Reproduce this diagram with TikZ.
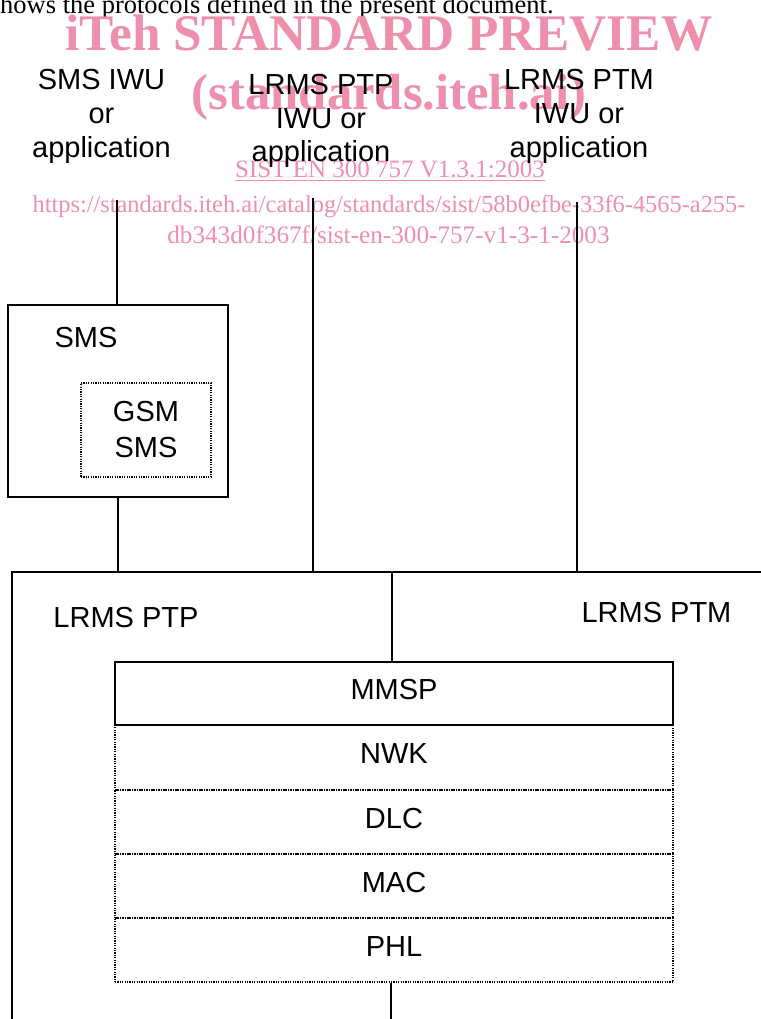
\documentclass[tikz,border=0pt]{standalone}
\usepackage{fontspec}
\setmainfont{Liberation Serif}
\newfontfamily\arialf{Liberation Sans}
\definecolor{wmpink}{RGB}{238,143,172}
\begin{document}
\begin{tikzpicture}[x=1pt,y=-1pt,
  lbl/.style={font=\arialf\fontsize{29}{33.7}\selectfont, inner sep=0pt},
  wm/.style={text=wmpink, inner sep=0pt},
  bodytext/.style={text=black, inner sep=0pt, font=\fontsize{26.5}{30}\selectfont},
  conn/.style={line width=1.4pt},
  solidbox/.style={draw, line width=1.4pt, inner sep=0pt},
  dotbox/.style={draw, line width=1.2pt, dash pattern=on 1.2pt off 1.2pt, inner sep=0pt},
  layer/.style={lbl, minimum width=558pt, text height=21pt, text depth=9pt}
]
\useasboundingbox (0,0) rectangle (760,1019);
% text above the figure and watermark
\node[bodytext, anchor=base west] (intro) at (0,13.5) {hows the protocols defined in the present document.};
\node[wm, anchor=base, font=\bfseries\fontsize{51.3}{55}\selectfont] (wm1) at (389,50.7) {iTeh STANDARD PREVIEW};
\node[wm, anchor=base, font=\bfseries\fontsize{50.7}{55}\selectfont] (wm2) at (389,110) {(standards.iteh.ai)};
\node[wm, anchor=base, font=\fontsize{25}{30}\selectfont] (wm3) at (390,178) {\underline{SIST EN 300 757 V1.3.1:2003}};
\node[wm, anchor=base, font=\fontsize{24.4}{30}\selectfont] (wm4) at (389,212) {https://standards.iteh.ai/catalog/standards/sist/58b0efbe-33f6-4565-a255-};
\node[wm, anchor=base, font=\fontsize{25.2}{30}\selectfont] (wm5) at (388.5,243) {db343d0f367f/sist-en-300-757-v1-3-1-2003};
% column labels
\node[lbl, anchor=base] (smsiwu) at (101.5,90) {\begin{tabular}[t]{@{}c@{}}SMS IWU\\or\\application\end{tabular}};
\node[lbl, anchor=base] (ptpiwu) at (321,94.5) {\begin{tabular}[t]{@{}c@{}}LRMS PTP\\IWU or\\application\end{tabular}};
\node[lbl, anchor=base] (ptmiwu) at (579,90) {\begin{tabular}[t]{@{}c@{}}LRMS PTM\\IWU or\\application\end{tabular}};
% SMS block
\node[solidbox, minimum width=220pt, minimum height=192pt] (smsbox) at (118,401) {};
\node[lbl, anchor=base] (smslbl) at (86,347) {SMS};
\node[dotbox, font=\arialf\fontsize{29}{36}\selectfont, minimum width=130pt, minimum height=94pt, align=center] (gsm) at (146,430) {GSM\\SMS};
% frame
\coordinate (frameR) at (762,572);
\coordinate (frameL) at (12,572);
\coordinate (frameB) at (12,1021);
\draw[conn] (frameR) -- (frameL) -- (frameB);
\node[lbl, anchor=base] (ptplbl) at (126,627) {LRMS PTP};
\node[lbl, anchor=base] (ptmlbl) at (656.5,622) {LRMS PTM};
% protocol stack
\node[solidbox, layer, minimum height=63pt] (mmsp) at (394,693.5) {MMSP};
\node[dotbox, layer, minimum height=65pt] (nwk) at (394,757.5) {NWK};
\node[dotbox, layer, minimum height=64pt] (dlc) at (394,822) {DLC};
\node[dotbox, layer, minimum height=64pt] (mac) at (394,886) {MAC};
\node[dotbox, layer, minimum height=64pt] (phl) at (394,950) {PHL};
% connectors
\coordinate (smsEnd) at (117,200);
\coordinate (ptpEnd) at (313,198);
\coordinate (ptmEnd) at (577,202);
\coordinate (stackTop) at (392,572);
\coordinate (bottomEnd) at (391,1021);
\draw[conn] (smsEnd) -- (smsEnd |- smsbox.north);
\draw[conn] (smsbox.south) -- (smsbox.south |- frameL);
\draw[conn] (ptpEnd) -- (ptpEnd |- frameL);
\draw[conn] (ptmEnd) -- (ptmEnd |- frameL);
\draw[conn] (stackTop) -- (stackTop |- mmsp.north);
\draw[conn] (bottomEnd |- phl.south) -- (bottomEnd);
\end{tikzpicture}
\end{document}
